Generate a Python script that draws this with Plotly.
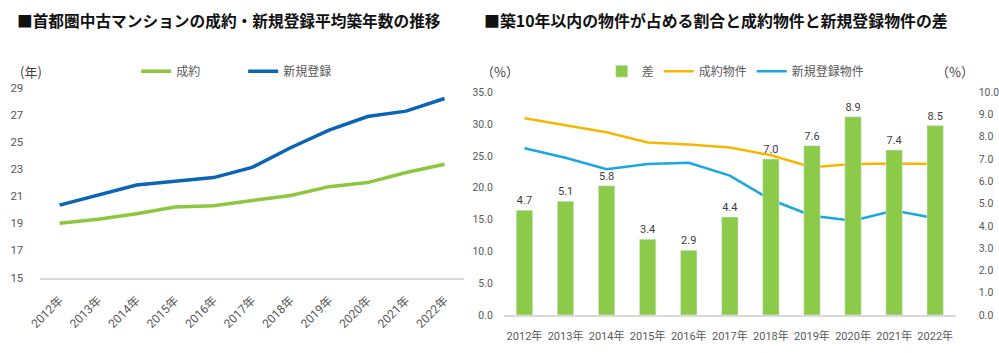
import plotly.graph_objects as go

years = ["2012年", "2013年", "2014年", "2015年", "2016年", "2017年",
         "2018年", "2019年", "2020年", "2021年", "2022年"]

# Left chart: average building age (years)
age_contract = [19.0, 19.3, 19.7, 20.2, 20.3, 20.7, 21.05, 21.7, 22.0, 22.74, 23.35]
age_new = [20.34, 21.05, 21.82, 22.1, 22.37, 23.12, 24.57, 25.87, 26.87, 27.27, 28.2]

# Right chart: share of properties within 10 years (%) and difference
share_contract = [30.9, 29.8, 28.7, 27.1, 26.8, 26.3, 25.1, 23.2, 23.7, 23.8, 23.7]
share_new = [26.2, 24.7, 22.9, 23.7, 23.9, 21.9, 18.1, 15.6, 14.8, 16.4, 15.2]
diff = [4.7, 5.1, 5.8, 3.4, 2.9, 4.4, 7.0, 7.6, 8.9, 7.4, 8.5]

W, H = 999, 353
def xd(a, b):
    return [a / W, b / W]
def yd(top, bottom):
    return [1 - bottom / H, 1 - top / H]

TICK = "#595959"
FONT = "Roboto, Noto Sans CJK JP, sans-serif"
CJK = "Noto Sans CJK JP, sans-serif"

fig = go.Figure()

# Left chart
fig.add_trace(go.Scatter(x=years, y=age_contract, name="成約", mode="lines",
                         line=dict(color="#8DC63F", width=3.5), xaxis="x", yaxis="y",
                         legend="legend"))
fig.add_trace(go.Scatter(x=years, y=age_new, name="新規登録", mode="lines",
                         line=dict(color="#0B64B4", width=3.5), xaxis="x", yaxis="y",
                         legend="legend"))

# Right chart
fig.add_trace(go.Bar(x=years, y=diff, name="差", marker_color="#8CCB4A", width=0.4,
                     text=[f"{v:.1f}" for v in diff], textposition="outside",
                     textfont=dict(size=11, color="#404040", family=FONT),
                     cliponaxis=False, xaxis="x2", yaxis="y3", legend="legend2"))
fig.add_trace(go.Scatter(x=years, y=share_contract, name="成約物件", mode="lines",
                         line=dict(color="#F5B800", width=2.5), xaxis="x2", yaxis="y2",
                         legend="legend2"))
fig.add_trace(go.Scatter(x=years, y=share_new, name="新規登録物件", mode="lines",
                         line=dict(color="#1AA7E0", width=2.5), xaxis="x2", yaxis="y2",
                         legend="legend2"))

fig.update_layout(
    width=W, height=H,
    margin=dict(l=0, r=0, t=0, b=0),
    paper_bgcolor="white", plot_bgcolor="white",
    font=dict(family=FONT, color=TICK),
    bargap=0.6,
    xaxis=dict(domain=xd(30, 463), type="category", range=[-0.5, 10.5],
               showgrid=False, showline=True, linecolor="#D9D9D9", linewidth=2,
               ticks="", tickangle=-45, tickfont=dict(size=12, color=TICK),
               ticklabelstandoff=9, anchor="y", fixedrange=True),
    yaxis=dict(domain=yd(84, 281.7), range=[15, 29], dtick=2, tick0=15,
               showgrid=False, zeroline=False, showline=False,
               tickfont=dict(size=11.5, color=TICK), ticklabelstandoff=16,
               anchor="x", fixedrange=True),
    xaxis2=dict(domain=xd(504, 966), type="category", range=[-0.5, 10.5],
                showgrid=False, showline=True, linecolor="#D9D9D9", linewidth=2,
                ticks="", tickfont=dict(size=11, color=TICK), ticklabelstandoff=10,
                anchor="y2", fixedrange=True),
    yaxis2=dict(domain=yd(88.7, 320.7), range=[0, 35], dtick=5,
                tickformat=".1f", showgrid=False, zeroline=False,
                tickfont=dict(size=10.5, color=TICK), ticklabelstandoff=10,
                anchor="x2", fixedrange=True),
    yaxis3=dict(domain=yd(88.7, 320.7), range=[0, 10], dtick=1,
                tickformat=".1f", showgrid=False, zeroline=False,
                overlaying="y2", side="right", anchor="x2",
                tickfont=dict(size=10.5, color=TICK), ticklabelstandoff=22,
                fixedrange=True),
    legend=dict(orientation="h", x=128 / W, y=1 - 67 / H, xanchor="left",
                yanchor="middle", font=dict(size=12, color=TICK, family=CJK),
                entrywidth=62, entrywidthmode="pixels", itemwidth=30,
                bgcolor="rgba(0,0,0,0)"),
    legend2=dict(orientation="h", x=604 / W, y=1 - 67 / H, xanchor="left",
                 yanchor="middle", font=dict(size=12, color=TICK, family=CJK),
                 itemwidth=30, bgcolor="rgba(0,0,0,0)"),
    showlegend=True,
)

ann = [
    dict(text="■首都圏中古マンションの成約・新規登録平均築年数の推移", x=4, y=14,
         size=15.7, color="#111111", bold=True),
    dict(text="■築10年以内の物件が占める割合と成約物件と新規登録物件の差", x=482, y=14,
         size=15.9, color="#111111", bold=True),
    dict(text="(年)", x=7, y=67, size=13, color="#404040", bold=False),
    dict(text="（%）", x=479, y=67, size=13, color="#404040", bold=False),
    dict(text="（%）", x=944, y=67, size=13, color="#404040", bold=False),
]
for a in ann:
    t = f"<b>{a['text']}</b>" if a["bold"] else a["text"]
    fig.add_annotation(text=t, x=a["x"] / W, y=1 - a["y"] / H, xref="paper", yref="paper",
                       xanchor="left", yanchor="middle", showarrow=False,
                       font=dict(size=a["size"], color=a["color"], family=CJK))

fig.write_html("out.html")
